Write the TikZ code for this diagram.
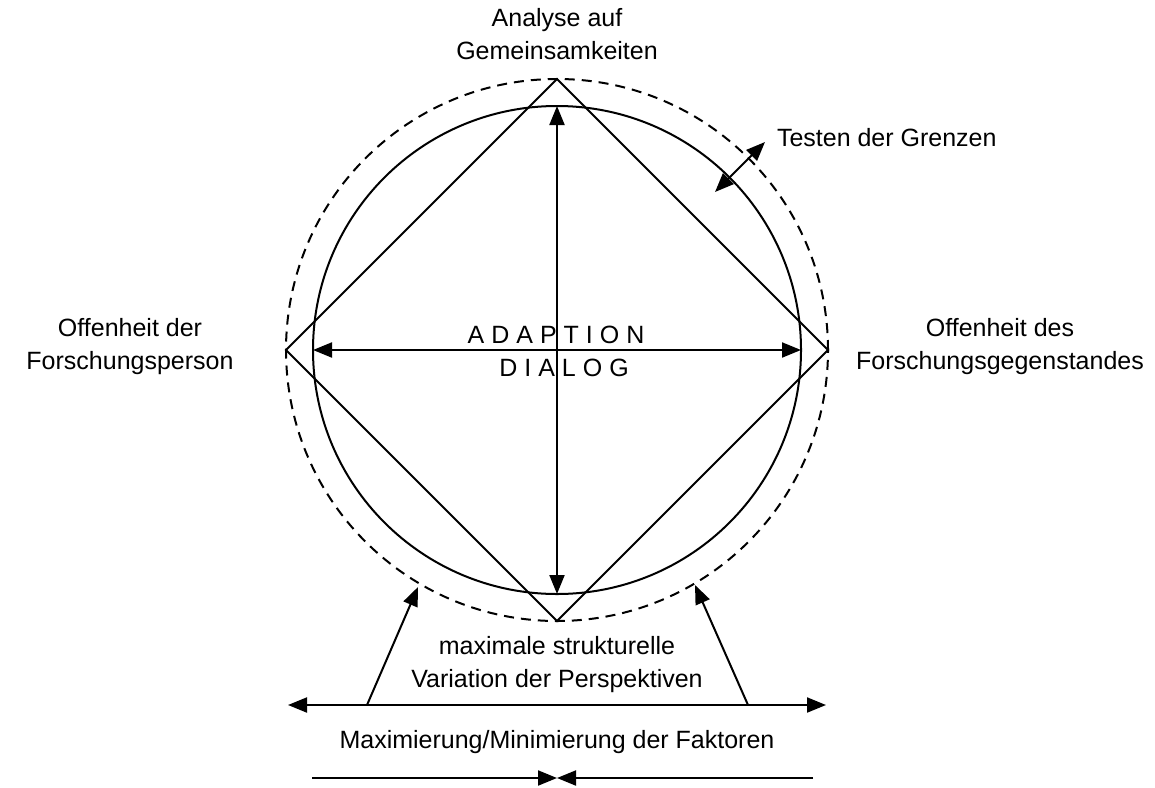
\documentclass[tikz,border=0pt]{standalone}
\usepackage{fontspec}
\setmainfont{Liberation Sans}
\usetikzlibrary{arrows.meta}
\newcommand\lsp{\kern7pt}
\begin{document}
\begin{tikzpicture}[x=1pt,y=-1pt,
  line width=2pt,
  lbl/.style={font=\fontsize{25}{33}\selectfont, align=center, inner sep=0pt},
  tip/.style={-{Triangle[length=19pt,width=15pt]}},
  dtip/.style={{Triangle[length=19pt,width=15pt]}-{Triangle[length=19pt,width=15pt]}},
  ring/.style={circle, draw, inner sep=0pt, outer sep=0pt}]
\useasboundingbox (0,0) rectangle (1155,787);
\node[ring, minimum size=488] (C) at (557,350) {};
\node[ring, minimum size=542, dash pattern=on 10pt off 7pt] (D) at (557,350) {};
\draw (D.north) -- (D.east) -- (D.south) -- (D.west) -- cycle;
\draw[dtip] (C.north) -- (C.south);
\draw[dtip] (C.west) -- (C.east);

\node[lbl] (top) at (557,34) {Analyse auf\\Gemeinsamkeiten};
\node[lbl, anchor=west] (testen) at (776,138) {Testen der Grenzen};
\node[lbl] (left) at (130,347) {Offenheit der\\Forschungsperson};
\node[lbl] (right) at (1000,347) {Offenheit des\\Forschungsgegenstandes};
\node[lbl] (adapt) at (556,335) {A\lsp D\lsp A\lsp P\lsp T\lsp I\lsp O\lsp N};
\node[lbl] (dialog) at (564,368) {D\lsp I\lsp A\lsp L\lsp O\lsp G};
\node[lbl] (maxs) at (557,665) {maximale strukturelle\\Variation der Perspektiven};
\node[lbl] (faktoren) at (557,742) {Maximierung/Minimierung der Faktoren};

\coordinate (ta) at (715,192);
\coordinate (tb) at (765,142);
\draw[dtip] (ta) -- (tb);

\coordinate (bl) at (367,705);
\coordinate (blt) at (418,587);
\coordinate (br) at (748,705);
\coordinate (brt) at (695,585);
\draw[tip] (bl) -- (blt);
\draw[tip] (br) -- (brt);

\coordinate (hl) at (288,705);
\coordinate (hr) at (826,705);
\draw[dtip] (hl) -- (hr);

\coordinate (ll) at (312,778);
\coordinate (rr) at (813,778);
\coordinate (mid) at (557,778);
\draw[tip] (ll) -- (mid);
\draw[tip] (rr) -- (mid);
\end{tikzpicture}
\end{document}
